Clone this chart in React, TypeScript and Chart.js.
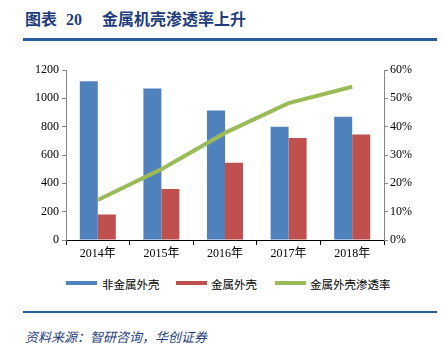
import React, { useEffect, useRef } from "react";
import { Chart, registerables } from "chart.js";

Chart.register(...registerables);

const categories = ["2014年", "2015年", "2016年", "2017年", "2018年"];
const nonMetal = [1120, 1070, 915, 800, 870];
const metal = [180, 360, 545, 720, 745];
const penetration = [14.1, 25, 37.8, 48.3, 54.1];
const leftTicks = [0, 200, 400, 600, 800, 1000, 1200];
const rightTicks = [0, 10, 20, 30, 40, 50, 60];

const seriesNames = ["非金属外壳", "金属外壳", "金属外壳渗透率"];
const colors = ["#4F81BD", "#C0504D", "#9BBB59"];

const tickFont = { family: "'Liberation Serif', 'Times New Roman', 'Noto Sans CJK SC', serif", size: 12 };

export default function App() {
  const ref = useRef<HTMLCanvasElement>(null);
  useEffect(() => {
    if (!ref.current) return;
    const chart = new Chart(ref.current, {
      type: "bar",
      data: {
        labels: categories,
        datasets: [
          {
            type: "line",
            label: seriesNames[2],
            data: penetration,
            borderColor: colors[2],
            backgroundColor: colors[2],
            borderWidth: 4,
            pointRadius: 0,
            yAxisID: "y1",
            tension: 0,
            order: 0,
          } as any,
          {
            label: seriesNames[0],
            data: nonMetal,
            backgroundColor: colors[0],
            yAxisID: "y",
            categoryPercentage: 0.566,
            barPercentage: 1,
            order: 1,
          },
          {
            label: seriesNames[1],
            data: metal,
            backgroundColor: colors[1],
            yAxisID: "y",
            categoryPercentage: 0.566,
            barPercentage: 1,
            order: 1,
          },
        ],
      },
      options: {
        animation: false,
        responsive: false,
        maintainAspectRatio: false,
        layout: { padding: { left: 0, right: 0, top: 20, bottom: 0 } },
        plugins: { legend: { display: false }, tooltip: { enabled: false } },
        scales: {
          x: {
            grid: { display: true, drawOnChartArea: false, drawTicks: true, tickLength: 5, color: "#000", offset: true },
            border: { display: true, color: "#000", width: 1 },
            ticks: { color: "#000", font: tickFont, padding: 2, maxRotation: 0 },
            afterFit: (s: any) => { s.height = 30; },
          },
          y: {
            position: "left",
            min: 0,
            max: 1200,
            afterBuildTicks: (s: any) => { s.ticks = leftTicks.map((v) => ({ value: v })); },
            grid: { display: true, drawOnChartArea: false, drawTicks: true, tickLength: 4, color: "#868686" },
            border: { display: true, color: "#868686", width: 1 },
            ticks: { color: "#000", font: tickFont, padding: 3, callback: (v: any) => String(v) },
            afterFit: (s: any) => { s.width = 66; },
          },
          y1: {
            position: "right",
            min: 0,
            max: 60,
            afterBuildTicks: (s: any) => { s.ticks = rightTicks.map((v) => ({ value: v })); },
            grid: { display: true, drawOnChartArea: false, drawTicks: true, tickLength: 4, color: "#868686" },
            border: { display: true, color: "#868686", width: 1 },
            ticks: { color: "#000", font: tickFont, padding: 2, callback: (v: any) => v + "%" },
            afterFit: (s: any) => { s.width = 62; },
          },
        },
      },
    });
    return () => chart.destroy();
  }, []);

  const legendText: React.CSSProperties = {
    position: "absolute",
    top: 276,
    fontSize: 11.5,
    fontFamily: "'Noto Sans CJK SC', sans-serif",
    color: "#000",
    lineHeight: "16px",
  };
  const box = (left: number, color: string, h: number, top: number): React.CSSProperties => ({
    position: "absolute",
    left,
    top,
    width: 31,
    height: h,
    background: color,
  });

  return (
    <div style={{ position: "fixed", left: 0, top: 0, width: 446, height: 346, background: "#fff", overflow: "hidden" }}>
      <div
        style={{
          position: "absolute",
          left: 25,
          top: 8,
          fontSize: 16,
          fontWeight: "bold",
          color: "#1F3D7A",
          fontFamily: "'Noto Sans CJK SC', sans-serif",
          lineHeight: "20px",
          whiteSpace: "nowrap",
        }}
      >
        <span>图表</span>
        <span style={{ marginLeft: 9, fontFamily: "'Liberation Serif', serif" }}>20</span>
        <span style={{ marginLeft: 20 }}>金属机壳渗透率上升</span>
      </div>
      <div style={{ position: "absolute", left: 23, top: 38, width: 414, height: 3, background: "#2B5B9B" }} />
      <canvas ref={ref} width={446} height={220} style={{ position: "absolute", left: 0, top: 50, width: 446, height: 220 }} />
      <div style={box(66, colors[0], 4, 281)} />
      <div style={{ ...legendText, left: 102 }}>{seriesNames[0]}</div>
      <div style={box(176, colors[1], 4, 281)} />
      <div style={{ ...legendText, left: 211 }}>{seriesNames[1]}</div>
      <div style={box(275, colors[2], 4, 281)} />
      <div style={{ ...legendText, left: 310 }}>{seriesNames[2]}</div>
      <div style={{ position: "absolute", left: 23, top: 311, width: 414, height: 2, background: "#2B5B9B" }} />
      <div
        style={{
          position: "absolute",
          left: 25,
          top: 329,
          fontSize: 13,
          fontStyle: "italic",
          color: "#1F3D7A",
          fontFamily: "'Noto Sans CJK SC', sans-serif",
          lineHeight: "16px",
          whiteSpace: "nowrap",
        }}
      >
        资料来源：智研咨询，华创证券
      </div>
    </div>
  );
}
